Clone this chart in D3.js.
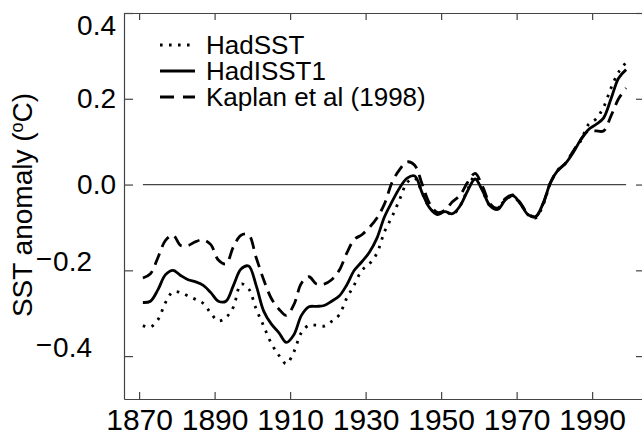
<!DOCTYPE html>
<html>
<head>
<meta charset="utf-8">
<script src="https://cdn.jsdelivr.net/npm/d3@7"></script>
<style>
  body { margin: 0; background: #fff; }
  text { font-family: "Liberation Sans", Arial, Helvetica, sans-serif; fill: #000; }
</style>
</head>
<body>
<div id="chart"></div>
<script>
var width = 642
var height = 436

// years of the smoothed series (every 2 years)
var years = d3.range(1871, 2000, 2)

var hadSST = [-0.329, -0.332, -0.315, -0.275, -0.25, -0.252, -0.26, -0.268, -0.277, -0.3,
  -0.318, -0.31, -0.285, -0.232, -0.243, -0.29, -0.33, -0.37, -0.398, -0.418,
  -0.39, -0.345, -0.328, -0.328, -0.33, -0.319, -0.304, -0.265, -0.234, -0.2,
  -0.185, -0.16, -0.11, -0.075, -0.035, 0.005, 0.015, -0.02, -0.055, -0.068,
  -0.063, -0.07, -0.05, -0.012, 0.02, -0.015, -0.05, -0.055, -0.035, -0.028,
  -0.045, -0.07, -0.078, -0.048, 0.005, 0.035, 0.05, 0.078, 0.102, 0.14,
  0.153, 0.18, 0.225, 0.262, 0.285]

var hadISST1 = [-0.275, -0.272, -0.245, -0.21, -0.2, -0.212, -0.222, -0.227, -0.235, -0.252,
  -0.272, -0.272, -0.235, -0.197, -0.19, -0.235, -0.295, -0.325, -0.345, -0.368,
  -0.35, -0.305, -0.285, -0.284, -0.282, -0.272, -0.26, -0.234, -0.2, -0.18,
  -0.158, -0.125, -0.075, -0.04, -0.008, 0.015, 0.02, -0.02, -0.055, -0.07,
  -0.063, -0.068, -0.05, -0.015, 0.013, -0.015, -0.05, -0.058, -0.036, -0.026,
  -0.045, -0.07, -0.075, -0.044, 0.005, 0.034, 0.05, 0.075, 0.105, 0.128,
  0.14, 0.155, 0.2, 0.248, 0.268]

var kaplan = [-0.218, -0.208, -0.17, -0.13, -0.118, -0.142, -0.142, -0.133, -0.129, -0.14,
  -0.176, -0.185, -0.145, -0.118, -0.117, -0.17, -0.222, -0.265, -0.29, -0.305,
  -0.28, -0.23, -0.215, -0.232, -0.232, -0.222, -0.2, -0.16, -0.128, -0.117,
  -0.1, -0.078, -0.045, 0.005, 0.035, 0.053, 0.045, 0.0, -0.045, -0.065,
  -0.06, -0.04, -0.025, 0.005, 0.026, -0.005, -0.045, -0.055, -0.033, -0.024,
  -0.043, -0.068, -0.075, -0.045, 0.005, 0.033, 0.05, 0.078, 0.105, 0.125,
  0.125, 0.125, 0.16, 0.2, 0.225]

var seriesNames = ["HadSST", "HadISST1", "Kaplan et al (1998)"]
var seriesValues = [hadSST, hadISST1, kaplan]
var seriesDash = ["2.6,6.4", null, "12,7"]

var xTicks = [1870, 1890, 1910, 1930, 1950, 1970, 1990]
var yTicks = [0.4, 0.2, 0.0, -0.2, -0.4]

var svg = d3.select("#chart")
  .append("svg")
  .attr("width", width)
  .attr("height", height)

var x = d3.scaleLinear().domain([1866, 2004]).range([124, 645])
var y = d3.scaleLinear().domain([-0.5, 0.4]).range([399, 13])

var fmt = d3.format(".1f")

// box with inward ticks on all sides
var xAxisG = svg.append("g")
  .attr("class", "axis")
  .attr("transform", "translate(0," + y(-0.5) + ")")
  .call(d3.axisBottom(x).tickValues(xTicks).tickSizeInner(-7).tickSizeOuter(0).tickPadding(10).tickFormat(d3.format("d")))

svg.append("g")
  .attr("class", "axis")
  .attr("transform", "translate(0," + y(0.4) + ")")
  .call(d3.axisTop(x).tickValues(xTicks).tickSizeInner(-7).tickSizeOuter(0).tickFormat(""))

var yAxisG = svg.append("g")
  .attr("class", "axis")
  .attr("transform", "translate(" + x(1866) + ",0)")
  .call(d3.axisLeft(y).tickValues(yTicks).tickSizeInner(-9).tickSizeOuter(0).tickPadding(8).tickFormat(function (d) { return fmt(Math.abs(d)) }))

svg.append("g")
  .attr("class", "axis")
  .attr("transform", "translate(" + x(2004) + ",0)")
  .call(d3.axisRight(y).tickValues(yTicks).tickSizeInner(-9).tickSizeOuter(0).tickFormat(""))

svg.selectAll(".axis path, .axis line")
  .attr("stroke", "#444")
  .attr("stroke-width", 1.2)

svg.selectAll(".axis text")
  .attr("font-family", null)
  .style("font-size", "28px")

xAxisG.selectAll("text").style("font-size", "30px")

// top label sits lower, like the original
yAxisG.selectAll("text")
  .filter(function (d) { return d === 0.4 })
  .attr("dy", "0.75em")

// negative labels: raised long minus, shifted left
yAxisG.selectAll("text")
  .filter(function (d) { return d < 0 })
  .each(function (d) {
    var t = d3.select(this)
    var num = t.text()
    t.text(null).attr("x", -32)
    t.append("tspan").attr("dy", "-0.1em").text("\u2212")
    t.append("tspan").attr("dy", "0.1em").attr("dx", 1).text(num)
  })

// zero line
svg.append("line")
  .attr("x1", x(years[0]))
  .attr("x2", x(years[years.length - 1]))
  .attr("y1", y(0))
  .attr("y2", y(0))
  .attr("stroke", "#444")
  .attr("stroke-width", 1.2)

var line = d3.line()
  .x(function (d) { return x(d[0]) })
  .y(function (d) { return y(d[1]) })
  .curve(d3.curveCatmullRom.alpha(0.5))

seriesValues.forEach(function (vals, i) {
  svg.append("path")
    .datum(years.map(function (yr, j) { return [yr, vals[j]] }))
    .attr("d", line)
    .attr("fill", "none")
    .attr("stroke", "#000")
    .attr("stroke-width", 2.8)
    .attr("stroke-dasharray", seriesDash[i])
})

// legend
var legend = svg.append("g")
seriesNames.forEach(function (name, i) {
  var ly = 45 + i * 26
  legend.append("line")
    .attr("x1", 160).attr("x2", 195)
    .attr("y1", ly).attr("y2", ly)
    .attr("stroke", "#000")
    .attr("stroke-width", 2.8)
    .attr("stroke-dasharray", i === 2 ? "14,9" : seriesDash[i])
  legend.append("text")
    .attr("x", 206)
    .attr("y", ly + 9)
    .style("font-size", "26px")
    .text(name)
})

// y axis title
var yTitle = svg.append("text")
  .attr("transform", "translate(32,205) rotate(-90)")
  .attr("text-anchor", "middle")
  .style("font-size", "28px")
yTitle.append("tspan").text("SST anomaly (")
yTitle.append("tspan").attr("dy", -9).style("font-size", "18px").text("o")
yTitle.append("tspan").attr("dy", 9).text("C)")
</script>
</body>
</html>
